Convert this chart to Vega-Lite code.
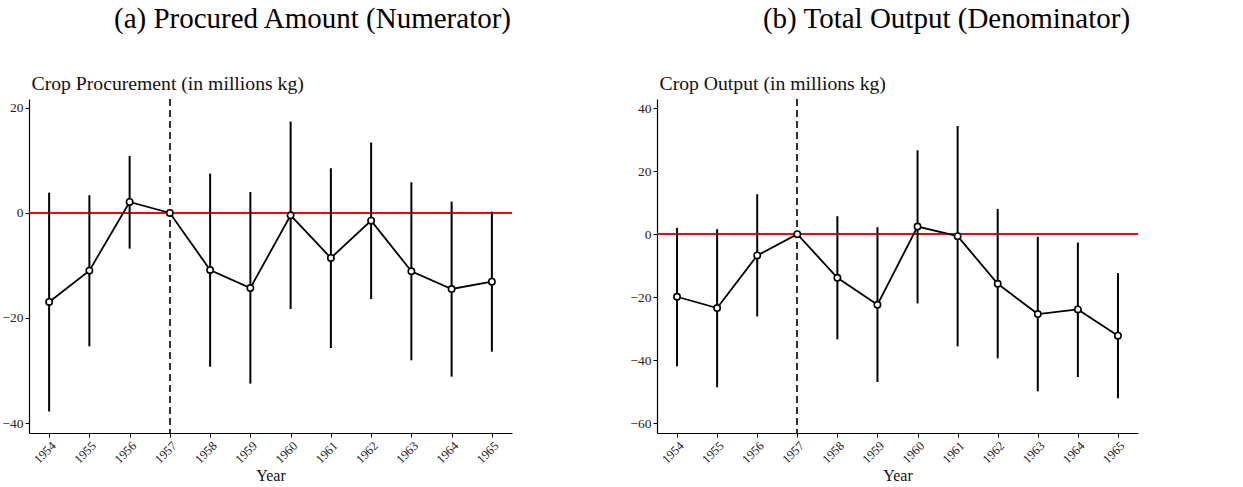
{
  "$schema": "https://vega.github.io/schema/vega-lite/v6.json",
  "background": "white",
  "padding": {"left": 1, "top": 4, "right": 10, "bottom": 4},
  "config": {
    "font": "Liberation Serif",
    "view": {"stroke": null},
    "title": {"font": "Liberation Serif", "fontSize": 29, "fontWeight": "normal", "color": "#000", "anchor": "middle", "frame": "group", "baseline": "alphabetic", "offset": 39.5},
    "axis": {
      "labelFont": "Liberation Serif", "titleFont": "Liberation Serif",
      "labelColor": "#222", "titleColor": "#111",
      "domainColor": "#000", "domainWidth": 1.2,
      "tickColor": "#000", "tickWidth": 1, "tickSize": 4,
      "grid": false, "titleFontWeight": "normal"
    }
  },
  "datasets": {
    "est": [
      {"panel": "a", "year": 1954, "est": -16.95, "lo": -37.8, "hi": 3.87},
      {"panel": "a", "year": 1955, "est": -10.98, "lo": -25.4, "hi": 3.37},
      {"panel": "a", "year": 1956, "est": 2.1, "lo": -6.79, "hi": 10.86},
      {"panel": "a", "year": 1957, "est": 0, "lo": null, "hi": null},
      {"panel": "a", "year": 1958, "est": -10.86, "lo": -29.27, "hi": 7.49},
      {"panel": "a", "year": 1959, "est": -14.29, "lo": -32.5, "hi": 4.0},
      {"panel": "a", "year": 1960, "est": -0.44, "lo": -18.29, "hi": 17.4},
      {"panel": "a", "year": 1961, "est": -8.57, "lo": -25.71, "hi": 8.51},
      {"panel": "a", "year": 1962, "est": -1.46, "lo": -16.38, "hi": 13.4},
      {"panel": "a", "year": 1963, "est": -11.1, "lo": -28.06, "hi": 5.84},
      {"panel": "a", "year": 1964, "est": -14.48, "lo": -31.17, "hi": 2.16},
      {"panel": "a", "year": 1965, "est": -13.08, "lo": -26.41, "hi": 0.25},
      {"panel": "b", "year": 1954, "est": -19.86, "lo": -41.94, "hi": 2.0},
      {"panel": "b", "year": 1955, "est": -23.45, "lo": -48.6, "hi": 1.58},
      {"panel": "b", "year": 1956, "est": -6.76, "lo": -26.1, "hi": 12.68},
      {"panel": "b", "year": 1957, "est": 0, "lo": null, "hi": null},
      {"panel": "b", "year": 1958, "est": -13.84, "lo": -33.39, "hi": 5.7},
      {"panel": "b", "year": 1959, "est": -22.4, "lo": -46.91, "hi": 2.22},
      {"panel": "b", "year": 1960, "est": 2.43, "lo": -21.98, "hi": 26.62},
      {"panel": "b", "year": 1961, "est": -0.63, "lo": -35.6, "hi": 34.34},
      {"panel": "b", "year": 1962, "est": -15.74, "lo": -39.41, "hi": 8.03},
      {"panel": "b", "year": 1963, "est": -25.36, "lo": -49.87, "hi": -0.85},
      {"panel": "b", "year": 1964, "est": -23.88, "lo": -45.33, "hi": -2.64},
      {"panel": "b", "year": 1965, "est": -32.22, "lo": -52.09, "hi": -12.36}
    ]
  },
  "spacing": 116,
  "hconcat": [
    {
      "title": {"text": "(a) Procured Amount (Numerator)", "dx": 42},
      "width": 483,
      "height": 334,
      "data": {"name": "est"},
      "transform": [{"filter": "datum.panel === 'a'"}],
      "encoding": {
        "x": {
          "field": "year", "type": "quantitative",
          "scale": {"domain": [1953.5, 1965.5], "nice": false, "zero": false},
          "axis": {
            "values": [1954, 1955, 1956, 1957, 1958, 1959, 1960, 1961, 1962, 1963, 1964, 1965],
            "format": "d", "labelAngle": -45, "labelFontSize": 12.5, "labelPadding": 2,
            "title": "Year", "titleFontSize": 16, "titlePadding": 2
          }
        },
        "y": {
          "field": "est", "type": "quantitative",
          "scale": {"domain": [-41.9, 21.7], "nice": false, "zero": false},
          "axis": {
            "values": [-40, -20, 0, 20], "labelFontSize": 13.5, "labelPadding": 2,
            "title": "Crop Procurement (in millions kg)", "titleFontSize": 19.7,
            "titleAngle": 0, "titleAlign": "left", "titleBaseline": "alphabetic",
            "titleX": 2, "titleY": -10
          }
        }
      },
      "layer": [
        {"mark": {"type": "rule", "color": "#ff0000", "strokeWidth": 1.3}, "encoding": {"x": null, "y": {"datum": 0}}},
        {"mark": {"type": "rule", "color": "#333", "strokeWidth": 1.3, "strokeDash": [7, 4]}, "encoding": {"y": null, "x": {"datum": 1957}}},
        {
          "transform": [{"filter": "datum.lo != null"}],
          "mark": {"type": "rule", "color": "#000", "strokeWidth": 2},
          "encoding": {"y": {"field": "lo", "type": "quantitative"}, "y2": {"field": "hi"}}
        },
        {"mark": {"type": "line", "color": "#000", "strokeWidth": 1.8}},
        {"mark": {"type": "point", "shape": "circle", "filled": true, "fill": "white", "stroke": "#000", "strokeWidth": 1.6, "size": 40, "opacity": 1}}
      ]
    },
    {
      "title": {"text": "(b) Total Output (Denominator)", "dx": 49},
      "width": 481,
      "height": 334,
      "data": {"name": "est"},
      "transform": [{"filter": "datum.panel === 'b'"}],
      "encoding": {
        "x": {
          "field": "year", "type": "quantitative",
          "scale": {"domain": [1953.5, 1965.5], "nice": false, "zero": false},
          "axis": {
            "values": [1954, 1955, 1956, 1957, 1958, 1959, 1960, 1961, 1962, 1963, 1964, 1965],
            "format": "d", "labelAngle": -45, "labelFontSize": 12.5, "labelPadding": 2,
            "title": "Year", "titleFontSize": 16, "titlePadding": 2
          }
        },
        "y": {
          "field": "est", "type": "quantitative",
          "scale": {"domain": [-63.1, 42.9], "nice": false, "zero": false},
          "axis": {
            "values": [-60, -40, -20, 0, 20, 40], "labelFontSize": 13.5, "labelPadding": 2,
            "title": "Crop Output (in millions kg)", "titleFontSize": 19.7,
            "titleAngle": 0, "titleAlign": "left", "titleBaseline": "alphabetic",
            "titleX": 2, "titleY": -10
          }
        }
      },
      "layer": [
        {"mark": {"type": "rule", "color": "#ff0000", "strokeWidth": 1.3}, "encoding": {"x": null, "y": {"datum": 0}}},
        {"mark": {"type": "rule", "color": "#333", "strokeWidth": 1.3, "strokeDash": [7, 4]}, "encoding": {"y": null, "x": {"datum": 1957}}},
        {
          "transform": [{"filter": "datum.lo != null"}],
          "mark": {"type": "rule", "color": "#000", "strokeWidth": 2},
          "encoding": {"y": {"field": "lo", "type": "quantitative"}, "y2": {"field": "hi"}}
        },
        {"mark": {"type": "line", "color": "#000", "strokeWidth": 1.8}},
        {"mark": {"type": "point", "shape": "circle", "filled": true, "fill": "white", "stroke": "#000", "strokeWidth": 1.6, "size": 40, "opacity": 1}}
      ]
    }
  ]
}
